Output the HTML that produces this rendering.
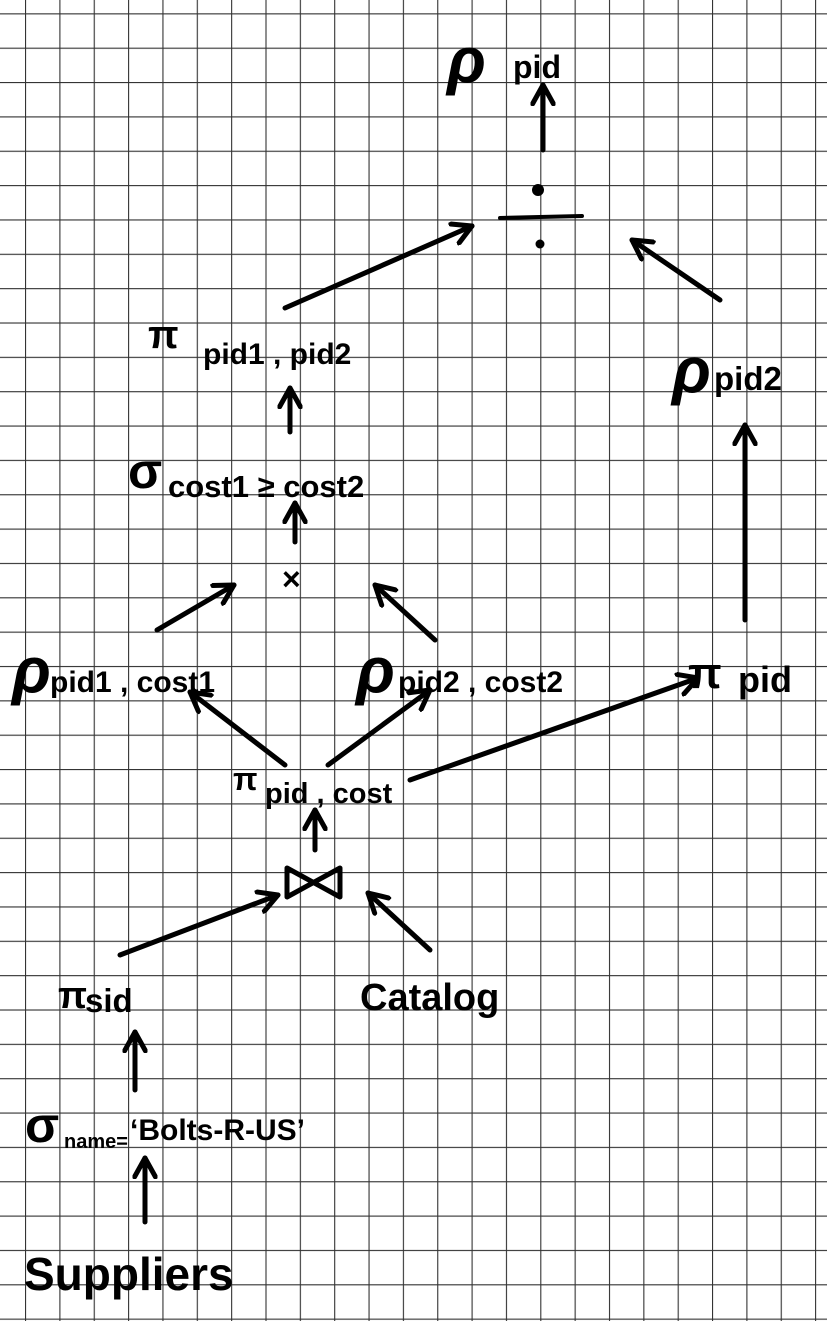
<!DOCTYPE html>
<html><head><meta charset="utf-8"><style>
html,body{margin:0;padding:0;background:#fff;}
svg{display:block;}
text{font-family:"Liberation Sans",sans-serif;font-weight:bold;fill:#000;}
</style></head><body>
<svg width="827" height="1321" viewBox="0 0 827 1321" xmlns="http://www.w3.org/2000/svg">
<defs>
<pattern id="g" x="25" y="13.3" width="34.35" height="34.35" patternUnits="userSpaceOnUse">
<path d="M0 0H34.35M0 0V34.35" stroke="#333" stroke-width="2.2" fill="none"/>
</pattern>
<marker id="a" viewBox="0 0 12 12" refX="10" refY="6" markerWidth="5" markerHeight="5" orient="auto" markerUnits="strokeWidth">
<path d="M1 1L10 6L1 11" fill="none" stroke="#000" stroke-width="2.4" stroke-linecap="round" stroke-linejoin="round"/>
</marker>
</defs>
<rect width="827" height="1321" fill="#fff"/>
<rect width="827" height="1321" fill="url(#g)"/>
<g stroke="#000" stroke-width="5" stroke-linecap="round" fill="none" marker-end="url(#a)">
<path d="M543 150L543 85"/>
<path d="M285 308L472 226"/>
<path d="M720 300L632 240"/>
<path d="M290 432L290 388"/>
<path d="M295 542L295 503"/>
<path d="M157 630L234 585"/>
<path d="M435 640L375 585"/>
<path d="M745 620L745 425"/>
<path d="M285 765L190 692"/>
<path d="M328 765L430 690"/>
<path d="M410 780L698 678"/>
<path d="M315 850L315 810"/>
<path d="M120 955L278 895"/>
<path d="M430 950L368 893"/>
<path d="M135 1090L135 1032"/>
<path d="M145 1222L145 1158"/>
</g>
<circle cx="538" cy="190" r="6" fill="#000"/>
<circle cx="540" cy="244" r="4.5" fill="#000"/>
<path d="M500 218L582 216" stroke="#000" stroke-width="4" stroke-linecap="round"/>
<text x="447" y="82" font-size="64" font-style="italic" font-weight="normal">ρ</text>
<text x="513" y="78" font-size="32">pid</text>
<text x="148" y="348" font-size="40" font-weight="normal">π</text>
<text x="203" y="364" font-size="30">pid1 , pid2</text>
<text x="672" y="392" font-size="64" font-style="italic" font-weight="normal">ρ</text>
<text x="714" y="390" font-size="33">pid2</text>
<text x="128" y="488" font-size="50" font-weight="normal">σ</text>
<text x="168" y="497" font-size="31">cost1 ≥ cost2</text>
<text x="282" y="590" font-size="32" font-weight="normal">×</text>
<text x="12" y="692" font-size="64" font-style="italic" font-weight="normal">ρ</text>
<text x="50" y="692" font-size="30">pid1 , cost1</text>
<text x="356" y="692" font-size="64" font-style="italic" font-weight="normal">ρ</text>
<text x="398" y="692" font-size="30">pid2 , cost2</text>
<text x="688" y="688" font-size="44" font-weight="normal">π</text>
<text x="738" y="692" font-size="36">pid</text>
<text x="233" y="790" font-size="32" font-weight="normal">π</text>
<text x="265" y="803" font-size="29">pid , cost</text>
<path d="M287 868L287 897L340 868L340 897Z" fill="none" stroke="#000" stroke-width="5" stroke-linejoin="round"/>
<text x="58" y="1008" font-size="38" font-weight="normal">π</text>
<text x="85" y="1012" font-size="33">sid</text>
<text x="360" y="1010" font-size="38">Catalog</text>
<text x="25" y="1142" font-size="50" font-weight="normal">σ</text>
<text x="64" y="1148" font-size="20">name=</text>
<text x="130" y="1140" font-size="30">‘Bolts-R-US’</text>
<text x="24" y="1290" font-size="46">Suppliers</text>
</svg>
</body></html>
